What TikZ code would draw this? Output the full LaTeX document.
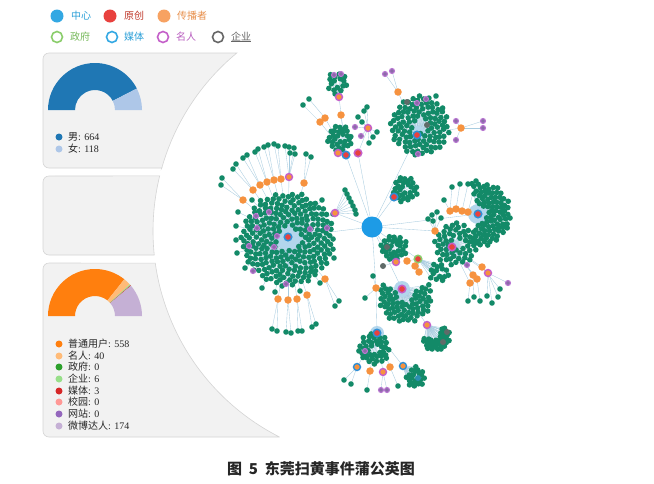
\documentclass[tikz,border=0pt]{standalone}
\usepackage{fontspec}
\setmainfont{Liberation Serif}
\newfontfamily\cjkf{Noto Sans CJK SC}
\definecolor{cblue}{HTML}{1D9BE6}
\definecolor{lgblue}{HTML}{33A8E3}
\definecolor{hred}{HTML}{E8413E}
\definecolor{orng}{HTML}{F6923F}
\definecolor{lorng}{HTML}{F7A262}
\definecolor{lgreen}{HTML}{8ACD6A}
\definecolor{rblue}{HTML}{2F8FD6}
\definecolor{mag}{HTML}{C45FC9}
\definecolor{gryc}{HTML}{5F6B68}
\definecolor{dgreen}{HTML}{138A68}
\definecolor{edgec}{HTML}{A8CCE0}
\definecolor{haloc}{HTML}{B3D6EC}
\definecolor{pfill}{HTML}{8B6AA8}
\definecolor{pring}{HTML}{B978D2}
\definecolor{panelc}{HTML}{F2F2F2}
\definecolor{panelb}{HTML}{D5D5D5}
\definecolor{tealc}{HTML}{2A8FB0}
\definecolor{tblue}{HTML}{2A9FD8}
\definecolor{tred}{HTML}{C0392B}
\definecolor{torng}{HTML}{E8904C}
\definecolor{tgreen}{HTML}{76B95A}
\definecolor{tmag}{HTML}{B85CBF}
\definecolor{tgray}{HTML}{666666}
\definecolor{c1}{HTML}{1F77B4}
\definecolor{c2}{HTML}{AEC7E8}
\definecolor{c3}{HTML}{FF7F0E}
\definecolor{c4}{HTML}{FFBB78}
\definecolor{c5}{HTML}{2CA02C}
\definecolor{c6}{HTML}{98DF8A}
\definecolor{c7}{HTML}{D62728}
\definecolor{c8}{HTML}{FF9896}
\definecolor{c9}{HTML}{9467BD}
\definecolor{c10}{HTML}{C5B0D5}
\newcommand\zh[1]{{\cjkf #1}}
\tikzset{
 dot/.style={circle,fill=dgreen,inner sep=0pt,minimum size=5.6pt,draw=none},
 edge/.style={draw=edgec,line width=0.35pt},
 org/.style={circle,fill=orng,inner sep=0pt,minimum size=7.5pt},
 hubr/.style={circle,fill=hred,draw=rblue,line width=1.5pt,inner sep=0pt,minimum size=7.5pt},
 mhubr/.style={hubr,draw=mag},
 ghub/.style={hubr,draw=lgreen},
 morg/.style={circle,fill=orng,draw=mag,line width=1.4pt,inner sep=0pt,minimum size=7pt},
 borg/.style={morg,draw=rblue},
 prp/.style={circle,fill=pfill,draw=pring,line width=1.1pt,inner sep=0pt,minimum size=5pt},
 gry/.style={circle,fill=gryc,inner sep=0pt,minimum size=6pt},
 tealn/.style={circle,fill=tealc,inner sep=0pt,minimum size=6pt},
 halo/.style={fill=haloc},
 cnode/.style={circle,fill=cblue,inner sep=0pt,minimum size=21pt},
 panel/.style={fill=panelc,draw=panelb,line width=0.6pt},
 lgf/.style={circle,inner sep=0pt,minimum size=13pt},
 lgr/.style={circle,inner sep=0pt,minimum size=11pt,line width=1.6pt,fill=white},
 lg/.style={anchor=west,inner sep=0pt,font=\cjkf\fontsize{10}{12}\selectfont},
 pd/.style={circle,inner sep=0pt,minimum size=7pt},
 pl/.style={anchor=west,inner sep=0pt,text=black!85,font=\fontsize{10}{11}\selectfont},
}
\newcount\netphase
% phase 1: coordinates + edges ; phase 2: halos + cluster dots ; phase 3: other nodes
\newcommand\mknode[5]{%
  \ifcase\netphase\or
    \coordinate (#2) at (#3,#4); \draw[edge] (#5) -- (#2);
  \or\or
    \node[#1] (#2n) at (#2) {};
  \fi}
\newcommand\mkleaves[3]{\foreach \p/\x/\y [count=\c] in {#3}{\mknode{#2}{#1\c}{\x}{\y}{\p}}}
\newcommand\mkclust[8]{%
  \foreach \i in {1,...,#6}{%
    \ifcase\netphase\or
      \pgfmathsetmacro\rr{#5*sqrt(0.06+0.94*(\i-0.5)/#6)}%
      \pgfmathsetmacro\aa{#7+#8*mod(\i*0.618034,1)}%
      \pgfmathsetmacro\px{#3+\rr*cos(\aa)+0.7*rand}%
      \pgfmathsetmacro\py{#4+\rr*sin(\aa)+0.7*rand}%
      \coordinate (#1\i) at (\px,\py);
      \draw[edge] (#2) -- (#1\i);
    \or
      \node[dot] (#1\i n) at (#1\i) {};
    \fi
  }}
\newcommand\mkhalo[2]{\ifnum\netphase=2 \fill[halo] (#1) circle[radius=#2];\fi}
\newcommand\dnut[5]{\fill[#1] (#2:#5) arc[start angle=#2,end angle=#3,radius=#5] -- (#3:#4) arc[start angle=#3,end angle=#2,radius=#4] -- cycle;}
\newcommand\network{%
\coordinate (C) at (372,227);
% A
\mknode{hubr}{hA}{288}{237}{C}
\mkhalo{hA}{13}
\mkclust{A}{hA}{288}{239}{47}{250}{0}{360}
\mkleaves{pa}{prp}{hA/256/216,hA/257/228,hA/269/212,hA/277/236,hA/274/247,hA/249/246,hA/310/229,hA/327/228,hA/253/271,hA/286/284}
\mkleaves{da}{dot}{hA/238/212,hA/236/226,hA/236/240,hA/237/253,hA/252/200,hA/322/200,hA/333/214,hA/334/258,hA/262/288,hA/275/292,hA/300/291,hA/320/283,hA/245/268}
\mkleaves{oa}{org}{hA/243/200,hA/253/190,hA/260/185,hA/267/182,hA/274/180,hA/281/179,hA/304/183,hA/278/299,hA/288/300,hA/297/299,hA/307/295,hA/325/279}
\mknode{morg}{ma}{289}{177}{hA}
\mkleaves{la}{dot}{oa1/222/178,oa1/221/185,oa2/233/169,oa2/236/164,oa3/243/158,oa3/247/155,oa4/255/152,oa4/258/149,oa5/264/147,oa5/268/145,oa6/274/144,oa6/278/146,ma/285/146,ma/289/147,ma/294/148,ma/290/153,ma/295/154,oa7/306/154,oa7/311/157,oa8/272/329,oa8/277/331,oa9/286/332,oa9/291/333,oa10/298/331,oa10/302/331,oa11/312/327,oa11/316/324,oa12/335/306,oa12/339/301}
% fan node
\mknode{morg}{mf}{335}{213}{C}
\mkleaves{lf}{dot}{mf/345/190,mf/347/194,mf/349/198,mf/351/202,mf/353/206,mf/355/210,mf/356/214}
% B
\mknode{hubr}{hb1}{346}{155}{C}
\mknode{mhubr}{hb2}{358}{153}{C}
\mknode{morg}{hb3}{338}{153}{hb1}
\mkclust{B}{hb3}{340}{138}{13}{28}{0}{360}
\mknode{morg}{hb4}{368}{128}{hb2}
\mkleaves{lb}{dot}{hb4/362/122,hb4/364/111,hb4/367/107,hb4/373/137,hb4/369/143,hb4/377/132,hb4/358/117}
\mkleaves{pb}{prp}{hb4/355/127,hb4/361/136}
\mknode{morg}{hb5}{339}{97}{hb1}
\mkclust{Bt}{hb5}{337}{83}{11}{16}{0}{360}
\mkleaves{pc}{prp}{hb5/334/75,hb5/341/74}
\mkleaves{ob}{org}{hb1/320/122,hb1/325/118,hb1/341/115}
\mkleaves{lc}{dot}{ob1/303/105,ob2/309/99}
% C
\mknode{hubr}{hc}{417}{135}{C}
\mkhalo{hc}{9}
\mkclust{C}{hc}{420}{126}{30}{108}{0}{360}
\mkleaves{gc}{gry}{hc/407/102,hc/427/125}
\mkleaves{pcc}{prp}{hc/418/154,hc/417/103,hc/426/99}
\mkleaves{oc}{org}{hc/398/92,hc/461/128}
\mkleaves{ppc}{prp}{oc1/385/74,oc1/392/71,oc2/456/121,oc2/483/121,oc2/483/128,oc2/456/140}
\mkleaves{dc}{dot}{hc/436/96}
% D
\mknode{hubr}{hd}{478}{214}{C}
\mkhalo{hd}{10}
\mkclust{D}{hd}{479}{214}{32}{92}{-105}{210}
\mkleaves{od}{org}{hd/450/211,hd/456/209,hd/462/211,hd/468/212}
\mkleaves{ld}{dot}{od1/452/187,od2/460/184,od3/468/184,od4/476/181,od1/444/200}
% E
\mknode{hubr}{he}{394}{197}{C}
\mkclust{E}{he}{405}{189}{13}{28}{0}{360}
% F
\mknode{org}{of}{435}{231}{C}
\mkleaves{lff}{dot}{of/432/215,of/437/212,of/441/218,of/433/221,of/428/219}
\mknode{mhubr}{hf}{452}{247}{of}
\mkhalo{hf}{8}
\mkclust{F}{hf}{456}{244}{22}{55}{0}{360}
\mkleaves{pf}{prp}{hf/467/265}
\mknode{morg}{mk}{488}{273}{hf}
\mkleaves{ok}{org}{hf/482/267,hf/473/275,hf/477/279,hf/470/283}
\mkleaves{pk}{prp}{mk/508/283}
\mkleaves{lk}{dot}{ok2/474/297,ok3/480/301,ok4/468/301,mk/492/303,mk/498/297,ok1/500/289,mk/487/296}
% G
\mknode{org}{oj}{376}{288}{C}
\mkleaves{lj}{dot}{oj/373/276,oj/365/298}
\mknode{mhubr}{hg}{402}{289}{C}
\mkhalo{hg}{8}
\mkclust{G}{hg}{405}{296}{27}{70}{-30}{240}
% H
\mknode{morg}{hh}{396}{262}{C}
\mkclust{H}{hh}{394}{248}{13}{30}{0}{360}
\mkleaves{gh}{gry}{hh/387/247,hh/383/266}
\mknode{ghub}{hh2}{418}{259}{C}
\mkleaves{oh}{org}{hh2/407/261,hh2/415/266,hh2/419/272}
\mkclust{Hb}{hh2}{439}{273}{10}{14}{0}{360}
% I
\mknode{morg}{hi}{427}{325}{hg}
\mkclust{I}{hi}{436}{337}{14}{32}{-60}{240}
\mkleaves{gi}{gry}{hi/447/332,hi/443/342}
% J
\mknode{hubr}{hj}{377}{333}{oj}
\mkhalo{hj}{7}
\mkclust{J}{hj}{374}{349}{16}{40}{0}{360}
\mkleaves{pj}{prp}{hj/365/351}
\mkleaves{bj}{borg}{hj/357/367,hj/403/366}
\mkleaves{ojx}{org}{hj/370/371,hj/390/367}
\mknode{morg}{mj}{383}{372}{hj}
\mkleaves{lm}{dot}{bj1/344/380,bj1/351/384,ojx1/367/390,ojx2/398/386}
\mkleaves{pm}{prp}{mj/381/390,mj/387/390}
\mkclust{Jb}{bj2}{416}{377}{10}{20}{0}{360}
\mknode{tealn}{tj}{418}{378}{bj2}
}
\begin{document}
\begin{tikzpicture}[x=1pt,y=-1pt]
\pgfmathsetseed{7}
\useasboundingbox (0,0) rectangle (654,483);
\fill[white] (0,0) rectangle (654,483);
% panels
\path[panel] (161.8,168) -- plot[domain=195.8:230.4,samples=30] ({384+231*cos(\x)},{231+231*sin(\x)}) -- (49,53) arc[start angle=270,end angle=180,radius=6] -- (43,162) arc[start angle=180,end angle=90,radius=6] -- cycle;
\path[panel] (154.25,255) -- plot[domain=174:193.8,samples=20] ({384+231*cos(\x)},{231+231*sin(\x)}) -- (49,176) arc[start angle=270,end angle=180,radius=6] -- (43,249) arc[start angle=180,end angle=90,radius=6] -- cycle;
\path[panel] (279.5,437) -- plot[domain=116.9:172,samples=40] ({384+231*cos(\x)},{231+231*sin(\x)}) -- (49,263) arc[start angle=270,end angle=180,radius=6] -- (43,431) arc[start angle=180,end angle=90,radius=6] -- cycle;
% donuts
\begin{scope}[shift={(95,110)}]
\dnut{c1}{180}{332.8}{20}{47}
\dnut{c2}{332.8}{360}{20}{47}
\end{scope}
\begin{scope}[shift={(95,316)}]
\dnut{c3}{180}{308.6}{20}{47}
\dnut{c4}{308.6}{317.8}{20}{47}
\dnut{c6}{317.8}{319.2}{20}{47}
\dnut{c7}{319.2}{319.9}{20}{47}
\dnut{c10}{319.9}{360}{20}{47}
\end{scope}
% panel legends
\node[pd,fill=c1] (p1a) at (59,137) {};
\node[pl] (p1at) at (68,137) {\zh{男}: 664};
\node[pd,fill=c2] (p1b) at (59,149) {};
\node[pl] (p1bt) at (68,149) {\zh{女}: 118};
\foreach \cc/\yy/\lab/\num [count=\k] in {c3/344/普通用户/558,c4/356/名人/40,c5/367/政府/0,c6/379/企业/6,c7/391/媒体/3,c8/402/校园/0,c9/414/网站/0,c10/426/微博达人/174}{
  \node[pd,fill=\cc] (q\k) at (59,\yy) {};
  \node[pl] (q\k t) at (68,\yy) {\zh{\lab}: \num};
}
% top legend
\node[lgf,fill=lgblue] (k1) at (57,16) {};
\node[lg,text=tblue] (k1t) at (71,16) {中心};
\node[lgf,fill=hred] (k2) at (110,16) {};
\node[lg,text=tred] (k2t) at (124,16) {原创};
\node[lgf,fill=lorng] (k3) at (164,16) {};
\node[lg,text=torng] (k3t) at (177,16) {传播者};
\node[lgr,draw=lgreen] (k4) at (57,37) {};
\node[lg,text=tgreen] (k4t) at (70,37) {政府};
\node[lgr,draw=lgblue] (k5) at (112,37) {};
\node[lg,text=tblue] (k5t) at (124,37) {媒体};
\node[lgr,draw=mag] (k6) at (163,37) {};
\node[lg,text=tmag] (k6t) at (176,37) {名人};
\node[lgr,draw=tgray] (k7) at (218,37) {};
\node[lg,text=tgray] (k7t) at (231,37) {企业};
\draw[tgray,line width=0.6pt] (k7t.south west) -- (k7t.south east);
% caption
\node[font=\cjkf\bfseries\fontsize{15}{17}\selectfont,text=black!85] (cap) at (321,469) {图\hspace{0.45em}5\hspace{0.45em}东莞扫黄事件蒲公英图};
% network in three passes
\netphase=1 \network
\netphase=2 \network
\netphase=3 \network
\node[cnode] (Cn) at (C) {};
\end{tikzpicture}
\end{document}
